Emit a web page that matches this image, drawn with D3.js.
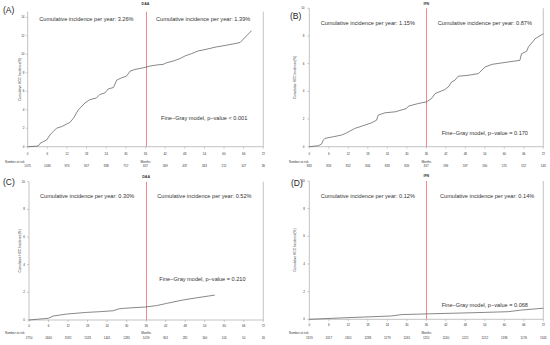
<!DOCTYPE html>
<html>
<head>
<meta charset="utf-8">
<script src="https://cdn.jsdelivr.net/npm/d3@7"></script>
<style>
  html, body { margin: 0; padding: 0; background: #fff; }
  svg { display: block; font-family: "Liberation Sans", Arial, sans-serif; }
</style>
</head>
<body>
<div id="chart"></div>
<script>
// x axis ticks (months) shared by all panels
const monthTicks = [0, 6, 12, 18, 24, 30, 36, 42, 48, 54, 60, 66, 72];

// (A) DAA, cirrhosis
const aTime = [0, 3.2, 3.8, 4.8, 5.8, 6.8, 7.8, 8.8, 10.4, 11.4, 12.9, 14, 15.5, 17.5, 19, 21, 22, 23.6, 24.6, 26.2, 27.2, 28.7, 30.2, 31.3, 32.8, 34.3, 35.5, 37.4, 39.4, 41.4, 42.5, 44.5, 46.5, 48.1, 50.1, 52.1, 54.7, 57.7, 60.8, 64.9, 68.4];
const aCif  = [0, 0.07, 0.36, 0.55, 0.73, 1.27, 1.64, 2.0, 2.18, 2.36, 2.62, 3.09, 4.0, 4.73, 5.09, 5.27, 5.64, 5.82, 6.25, 6.4, 7.2, 7.45, 7.64, 8.18, 8.36, 8.47, 8.55, 8.73, 8.84, 8.91, 9.09, 9.27, 9.53, 9.82, 10.07, 10.36, 10.55, 10.8, 10.98, 11.27, 12.55];
const aRisk = [1075, 1036, 974, 907, 838, 757, 657, 569, 437, 343, 212, 107, 36];

// (B) IFN, cirrhosis
const bTime = [0, 2.8, 3.8, 4.3, 4.8, 7.4, 9.9, 11.5, 14, 17.1, 19.2, 20.7, 21.2, 23.3, 26.4, 29.9, 30.5, 33.5, 36.1, 37.6, 38.7, 40.7, 41.7, 42.8, 43.8, 44.8, 45.8, 48.9, 52, 54.1, 56.2, 61.2, 64.8, 65.3, 66.9, 67.4, 69.5, 72];
const bCif  = [0, 0.07, 0.2, 0.48, 0.6, 0.72, 0.84, 1.0, 1.32, 1.56, 1.73, 1.92, 2.28, 2.45, 2.52, 2.76, 2.93, 3.12, 3.24, 3.48, 3.84, 4.03, 4.13, 4.32, 4.68, 4.8, 5.09, 5.16, 5.28, 5.76, 5.95, 6.12, 6.24, 6.72, 6.9, 7.2, 7.8, 8.16];
const bRisk = [863, 859, 852, 844, 833, 826, 817, 599, 597, 590, 570, 557, 543];

// (C) DAA, no cirrhosis
const cTime = [0, 2.4, 5.9, 7.5, 11.6, 17.7, 21.8, 25.9, 27.5, 29, 32, 35.8, 39.2, 42.3, 47.4, 52.5, 57.1];
const cCif  = [0, 0.05, 0.12, 0.29, 0.43, 0.55, 0.6, 0.67, 0.8, 0.84, 0.89, 0.94, 1.04, 1.2, 1.45, 1.64, 1.8];
const cRisk = [1750, 1660, 1592, 1528, 1441, 1285, 1019, 801, 281, 160, 105, 50, 16];

// (D) IFN, no cirrhosis
const dTime = [0, 9.9, 25.3, 28.4, 36.1, 51, 61.2, 65.3, 72];
const dCif  = [0, 0.1, 0.24, 0.34, 0.39, 0.48, 0.55, 0.67, 0.8];
const dRisk = [1319, 1317, 1301, 1288, 1279, 1265, 1251, 1240, 1221, 1212, 1198, 1176, 1163];

const panels = [
  { tag: '(A)', title: 'DAA', time: aTime, cif: aCif, risk: aRisk, yMax: 14,
    rateBefore: '3.26%', rateAfter: '1.39%', pText: 'Fine\u2212Gray model, p\u2212value < 0.001',
    x0: 27.7, x1: 263.3, yB: 146.7, yT: 17.3, frameTop: 11.7,
    tagPos: [3, 13], titleY: 4.6, rateY: 21, rateX: [39.3, 156], pPos: [161, 120.3],
    tickY: 154.8, riskLabelX: 5, riskLabelY: 163.4, riskY: 167.1, yLabX: 20.7, yTickX: 24.5 },
  { tag: '(B)', title: 'IFN', time: bTime, cif: bCif, risk: bRisk, yMax: 10,
    rateBefore: '1.15%', rateAfter: '0.87%', pText: 'Fine\u2212Gray model, p\u2212value = 0.170',
    x0: 309.3, x1: 543.3, yB: 146.7, yT: 8.3, frameTop: 8.3,
    tagPos: [290, 19], titleY: 5, rateY: 25.3, rateX: [320.7, 437.7], pPos: [441.7, 134.7],
    tickY: 155, riskLabelX: 289, riskLabelY: 163.4, riskY: 167.1, yLabX: 295.7, yTickX: 304.5 },
  { tag: '(C)', title: 'DAA', time: cTime, cif: cCif, risk: cRisk, yMax: 10,
    rateBefore: '0.30%', rateAfter: '0.52%', pText: 'Fine\u2212Gray model, p\u2212value = 0.210',
    x0: 29, x1: 263.3, yB: 320, yT: 181.7, frameTop: 181.7,
    tagPos: [3, 184.7], titleY: 178.2, rateY: 198, rateX: [40, 157.3], pPos: [159.3, 280.7],
    tickY: 327.4, riskLabelX: 5, riskLabelY: 334.1, riskY: 339.1, yLabX: 20.7, yTickX: 25 },
  { tag: '(D)', title: 'IFN', time: dTime, cif: dCif, risk: dRisk, yMax: 10,
    rateBefore: '0.12%', rateAfter: '0.14%', pText: 'Fine\u2212Gray model, p\u2212value = 0.068',
    x0: 309.3, x1: 543.3, yB: 319.3, yT: 181, frameTop: 181,
    tagPos: [291, 186.3], titleY: 177.2, rateY: 198, rateX: [320.7, 440], pPos: [441.7, 307],
    tickY: 326.4, riskLabelX: 289, riskLabelY: 333.8, riskY: 338.8, yLabX: 295.7, yTickX: 305 }
];

const svg = d3.select('#chart')
  .append('svg')
  .attr('width', 550)
  .attr('height', 345);

svg.append('rect').attr('width', 550).attr('height', 345).attr('fill', '#fff');

const axisColor = '#9a9a9a';
const textColor = '#333';

panels.forEach(p => {
  const g = svg.append('g');

  const x = d3.scaleLinear().domain([0, 72]).range([p.x0, p.x1]);
  const y = d3.scaleLinear().domain([0, p.yMax]).range([p.yB, p.yT]);

  // frame: left, bottom, right
  g.append('path')
    .attr('d', `M${p.x0},${p.frameTop}V${p.yB}H${p.x1}V${p.frameTop}`)
    .attr('fill', 'none')
    .attr('stroke', axisColor)
    .attr('stroke-width', 0.6);

  // x ticks
  g.selectAll('.xt')
    .data(monthTicks)
    .enter()
    .append('line')
    .attr('x1', d => x(d)).attr('x2', d => x(d))
    .attr('y1', p.yB).attr('y2', p.yB + 2)
    .attr('stroke', axisColor)
    .attr('stroke-width', 0.5);

  g.selectAll('.xl')
    .data(monthTicks)
    .enter()
    .append('text')
    .attr('x', d => x(d))
    .attr('y', p.tickY)
    .attr('text-anchor', 'middle')
    .attr('font-size', 3)
    .attr('fill', textColor)
    .text(d => d);

  // y ticks
  const yTicks = d3.range(0, p.yMax + 0.1, 2);
  g.selectAll('.yt')
    .data(yTicks)
    .enter()
    .append('line')
    .attr('x1', p.x0 - 2).attr('x2', p.x0)
    .attr('y1', d => y(d)).attr('y2', d => y(d))
    .attr('stroke', axisColor)
    .attr('stroke-width', 0.5);

  g.selectAll('.yl')
    .data(yTicks)
    .enter()
    .append('text')
    .attr('x', p.yTickX)
    .attr('y', d => y(d) + 1)
    .attr('text-anchor', 'end')
    .attr('font-size', 3)
    .attr('fill', textColor)
    .text(d => d);

  // y axis title
  g.append('text')
    .attr('transform', `translate(${p.yLabX},${(p.yB + p.frameTop) / 2}) rotate(-90)`)
    .attr('text-anchor', 'middle')
    .attr('font-size', 3.2)
    .attr('fill', textColor)
    .text('Cumulative HCC Incidence(%)');

  // 36 month reference line, snapped to a pixel column
  const x36 = Math.round(x(36)) + 0.5;
  g.append('line')
    .attr('x1', x36).attr('x2', x36)
    .attr('y1', p.frameTop).attr('y2', p.yB)
    .attr('stroke', '#f08a8a')
    .attr('stroke-width', 1);

  // cumulative incidence curve
  const line = d3.line()
    .x(d => x(d[0]))
    .y(d => y(d[1]));

  g.append('path')
    .datum(d3.zip(p.time, p.cif))
    .attr('d', line)
    .attr('fill', 'none')
    .attr('stroke', '#555')
    .attr('stroke-width', 0.7);

  // annotations
  g.append('text')
    .attr('x', p.rateX[0]).attr('y', p.rateY)
    .attr('font-size', 5.6)
    .attr('fill', textColor)
    .text('Cumulative incidence per year: ' + p.rateBefore);

  g.append('text')
    .attr('x', p.rateX[1]).attr('y', p.rateY)
    .attr('font-size', 5.6)
    .attr('fill', textColor)
    .text('Cumulative incidence per year: ' + p.rateAfter);

  g.append('text')
    .attr('x', p.pPos[0]).attr('y', p.pPos[1])
    .attr('font-size', 5.6)
    .attr('fill', textColor)
    .text(p.pText);

  g.append('text')
    .attr('x', x(36)).attr('y', p.titleY)
    .attr('text-anchor', 'middle')
    .attr('font-size', 3.6)
    .attr('font-weight', 'bold')
    .attr('fill', textColor)
    .text(p.title);

  g.append('text')
    .attr('x', p.tagPos[0]).attr('y', p.tagPos[1])
    .attr('font-size', 8.5)
    .attr('fill', '#222')
    .text(p.tag);

  // number at risk table
  g.append('text')
    .attr('x', p.riskLabelX).attr('y', p.riskLabelY)
    .attr('font-size', 3)
    .attr('fill', textColor)
    .text('Number at risk');

  g.append('text')
    .attr('x', x(36)).attr('y', p.riskLabelY)
    .attr('text-anchor', 'middle')
    .attr('font-size', 3)
    .attr('fill', textColor)
    .text('Months');

  g.selectAll('.risk')
    .data(p.risk)
    .enter()
    .append('text')
    .attr('x', (d, i) => x(monthTicks[i]))
    .attr('y', p.riskY)
    .attr('text-anchor', 'middle')
    .attr('font-size', 3)
    .attr('fill', textColor)
    .text(d => d);
});
</script>
</body>
</html>
